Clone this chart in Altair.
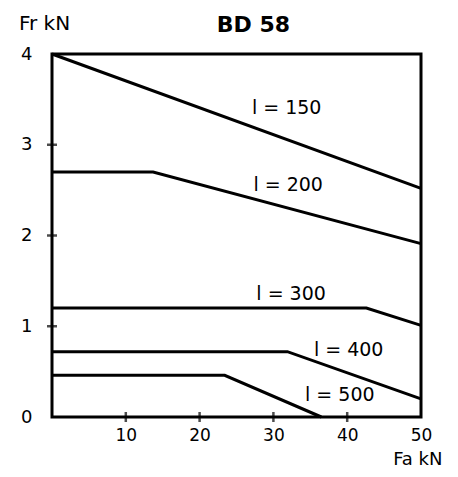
import altair as alt
import pandas as pd

# Curves: Fa (kN) vs Fr (kN) for shaft lengths l
series = ["l = 150", "l = 200", "l = 300", "l = 400", "l = 500"]
fa_150 = [0, 50];          fr_150 = [4.0, 2.52]
fa_200 = [0, 13.7, 50];    fr_200 = [2.7, 2.7, 1.91]
fa_300 = [0, 42.6, 50];    fr_300 = [1.2, 1.2, 1.01]
fa_400 = [0, 31.9, 50];    fr_400 = [0.72, 0.72, 0.2]
fa_500 = [0, 23.4, 36.5];  fr_500 = [0.46, 0.46, 0.0]

label_fa = [31.8, 32.0, 32.4, 40.2, 39.0]
label_fr = [3.40, 2.56, 1.35, 0.74, 0.24]

x_ticks = [10, 20, 30, 40]
y_ticks = [1, 2, 3]

rows = []
for name, xs, ys in zip(series,
                        [fa_150, fa_200, fa_300, fa_400, fa_500],
                        [fr_150, fr_200, fr_300, fr_400, fr_500]):
    for i, (a, b) in enumerate(zip(xs, ys)):
        rows.append({"series": name, "fa": a, "fr": b, "order": i})
df = pd.DataFrame(rows)
labels = pd.DataFrame({"text": series, "fa": label_fa, "fr": label_fr})
xt = pd.DataFrame({"fa": x_ticks, "fr": [0] * len(x_ticks)})
yt = pd.DataFrame({"fa": [0] * len(y_ticks), "fr": y_ticks})

FONT = "DejaVu Sans"
xscale = alt.Scale(domain=[0, 50], nice=False, zero=False)
yscale = alt.Scale(domain=[0, 4], nice=False, zero=False)

xaxis = alt.Axis(values=[10, 20, 30, 40, 50], format="d", domain=False, ticks=False, tickSize=0,
                 grid=False, labelPadding=10, labelFontSize=17, labelFont=FONT, labelColor="black",
                 labelFlush=False, labelOverlap=False,
                 title="Fa kN", titleFont=FONT, titleFontSize=18, titleFontWeight="normal",
                 titleColor="black", titleAlign="right", titleBaseline="alphabetic",
                 titleX=390, titleY=47.5, titleAngle=0)
yaxis = alt.Axis(values=[0, 1, 2, 3, 4], format="d", domain=False, ticks=False, tickSize=0,
                 grid=False, labelPadding=20, labelFontSize=18, labelFont=FONT, labelColor="black",
                 labelFlush=False, labelOverlap=False,
                 title="Fr kN", titleFont=FONT, titleFontSize=20, titleFontWeight="normal",
                 titleColor="black", titleAngle=0, titleAlign="center", titleBaseline="alphabetic",
                 titleX=-8, titleY=-25)

lines = alt.Chart(df).mark_line(color="black", strokeWidth=3).encode(
    x=alt.X("fa:Q", scale=xscale, axis=xaxis),
    y=alt.Y("fr:Q", scale=yscale, axis=yaxis),
    detail="series:N",
    order="order:Q",
)
text = alt.Chart(labels).mark_text(fontSize=19, font=FONT, color="black").encode(
    x=alt.X("fa:Q", scale=xscale), y=alt.Y("fr:Q", scale=yscale), text="text:N"
)
xticks = alt.Chart(xt).mark_tick(orient="vertical", color="black", thickness=2.5, size=10).encode(
    x=alt.X("fa:Q", scale=xscale), y=alt.Y("fr:Q", scale=yscale)
)
yticks = alt.Chart(yt).mark_tick(orient="horizontal", color="black", thickness=2.5, size=10).encode(
    x=alt.X("fa:Q", scale=xscale), y=alt.Y("fr:Q", scale=yscale)
)

chart = alt.layer(lines, text, xticks, yticks).properties(
    width=369, height=363,
    title=alt.TitleParams("BD 58", font=FONT, fontSize=22, fontWeight="bold", color="black",
                          anchor="middle", frame="group", dx=17, dy=19, offset=-22,
                          baseline="alphabetic"),
    padding={"left": 44, "top": 46, "right": 29, "bottom": 52},
    autosize=alt.AutoSizeParams(type="none"),
).configure_view(stroke="black", strokeWidth=3)

chart.save("out.html", embed_options={"renderer": "svg", "actions": False})
